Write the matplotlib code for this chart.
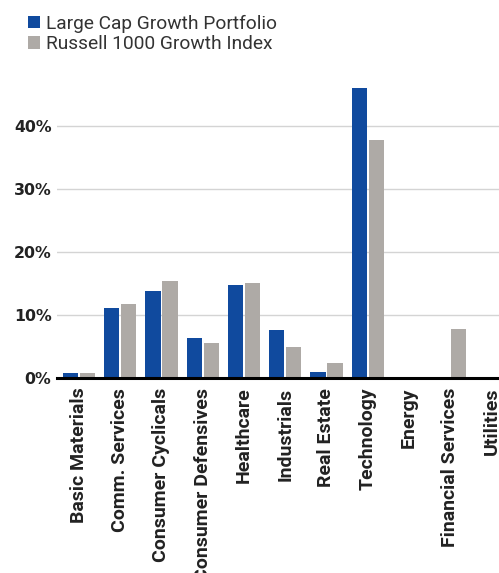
import matplotlib
matplotlib.use("Agg")
import matplotlib.pyplot as plt
import numpy as np

sectors = ["Basic Materials", "Comm. Services", "Consumer Cyclicals",
           "Consumer Defensives", "Healthcare", "Industrials", "Real Estate",
           "Technology", "Energy", "Financial Services", "Utilities"]
portfolio = [0.8, 11.1, 13.8, 6.3, 14.8, 7.6, 0.9, 46.1, 0.2, 0.2, 0.2]
index = [0.8, 11.7, 15.4, 5.5, 15.1, 4.9, 2.4, 37.8, 0.2, 7.8, 0.0]
yticks = [0, 10, 20, 30, 40]

BLUE = "#104a9e"
GRAY = "#aeaaa6"

plt.rcParams["font.family"] = ["Roboto", "DejaVu Sans"]

fig = plt.figure(figsize=(4.99, 5.73), dpi=100)
ax = fig.add_axes([57 / 499, 195 / 573, 1 - 57 / 499, (378 - 75.6) / 573])

x = np.arange(len(sectors))
w = 0.37
off = 0.205
ax.bar(x - off, portfolio, w, color=BLUE, label="Large Cap Growth Portfolio", zorder=3)
ax.bar(x + off, index, w, color=GRAY, label="Russell 1000 Growth Index", zorder=3)

ax.set_xlim(-0.53, 10.18)
ax.set_ylim(0, 48)
ax.set_yticks(yticks)
ax.set_yticklabels([f"{t}%" for t in yticks], fontsize=11.3, fontweight="bold",
                   color="#222222", family="DejaVu Sans")
ax.set_xticks(x)
ax.set_xticklabels(sectors, rotation=90, fontsize=14, fontweight="bold",
                   color="#222222", ha="center", va="top")
ax.tick_params(axis="both", length=0)
ax.tick_params(axis="x", pad=7)
ax.tick_params(axis="y", pad=4)

ax.grid(axis="y", color="#d4d4d4", linewidth=1, zorder=0)
for s in ["top", "right", "left"]:
    ax.spines[s].set_visible(False)
ax.spines["bottom"].set_linewidth(2.2)
ax.spines["bottom"].set_color("black")
ax.spines["bottom"].set_zorder(4)

fig.legend(loc="upper left", bbox_to_anchor=(24 / 499, 1 - 11 / 573), frameon=False,
           fontsize=13.8, handlelength=0.63, handleheight=0.63, handletextpad=0.3,
           labelspacing=0.12, labelcolor="#333333", borderaxespad=0, borderpad=0.2)

fig.savefig("out.png", dpi=100)
